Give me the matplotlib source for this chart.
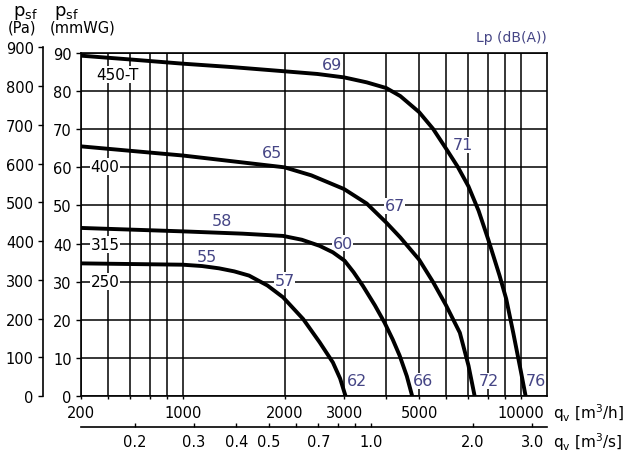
import matplotlib.pyplot as plt
from matplotlib.ticker import FixedLocator, FixedFormatter, NullLocator

# Fan curves: airflow q (m3/h) vs static pressure (mmWG)
q_450 = [500, 700, 1000, 1400, 2000, 2500, 3000, 3500, 4000, 4400, 5000, 5500, 6000,
         6500, 7000, 7500, 8000, 8650, 9050, 9500, 10000, 10330]
p_450 = [89.3, 88.3, 87.2, 86.3, 85.2, 84.5, 83.6, 82.3, 80.8, 78.7, 74.5, 70.1, 65.0,
         60.2, 55.0, 48.6, 41.2, 31.6, 25.5, 16.5, 6.5, 0]

q_400 = [500, 1000, 1400, 2000, 2400, 3000, 3500, 4000, 4400, 5000, 5500, 6000, 6600,
         7000, 7300]
p_400 = [65.5, 63.1, 61.6, 60.0, 57.9, 54.3, 50.5, 45.5, 41.6, 35.8, 29.9, 23.9, 16.6,
         8.0, 0]

q_315 = [500, 1000, 1500, 1980, 2250, 2540, 2780, 3010, 3200, 3410, 3700, 3950, 4180,
         4380, 4600, 4770]
p_315 = [44.1, 43.2, 42.6, 42.0, 41.0, 39.4, 37.7, 35.5, 32.5, 28.9, 23.8, 19.3, 14.8,
         10.6, 5.2, 0]

q_250 = [500, 1000, 1140, 1280, 1420, 1570, 1780, 1980, 2270, 2540, 2780, 2920, 3030]
p_250 = [34.8, 34.45, 34.1, 33.5, 32.7, 31.6, 29.0, 25.9, 20.2, 14.1, 8.8, 4.6, 0]

curve_names = ['450-T', '400', '315', '250']
curves = [(q_450, p_450), (q_400, p_400), (q_315, p_315), (q_250, p_250)]

# Sound pressure levels along each curve, dB(A)
lp_450 = ['69', '71', '76']
lp_400 = ['65', '67', '72']
lp_315 = ['58', '60', '66']
lp_250 = ['55', '57', '62']

# axis ticks
mm_ticks = [0, 10, 20, 30, 40, 50, 60, 70, 80, 90]
pa_ticks = [0, 100, 200, 300, 400, 500, 600, 700, 800, 900]
qh_grid = [500, 600, 700, 800, 900, 1000, 2000, 3000, 4000, 5000, 6000, 7000, 8000, 9000, 10000]
qh_ticks = [500, 1000, 2000, 3000, 5000, 10000]
qh_labels = ['200', '1000', '2000', '3000', '5000', '10000']
qs_ticks = [0.2, 0.3, 0.4, 0.5, 0.6, 0.7, 0.8, 0.9, 1.0, 2.0, 3.0]
qs_labels = ['0.2', '0.3', '0.4', '0.5', '', '0.7', '', '', '1.0', '2.0', '3.0']

W, H = 625, 460
lab_col = '#454585'
plt.rcParams['font.family'] = 'DejaVu Sans'

fig = plt.figure(figsize=(W / 100, H / 100), dpi=100)

# main axes (mmWG)
ax = fig.add_axes([81 / W, 63 / H, 466 / W, 343 / H])
ax.set_xscale('log')
ax.set_xlim(500, 11950)
ax.set_ylim(0, 90)
ax.set_axisbelow(True)

ax.xaxis.set_major_locator(FixedLocator(qh_grid))
ax.xaxis.set_major_formatter(FixedFormatter(
    [qh_labels[qh_ticks.index(t)] if t in qh_ticks else '' for t in qh_grid]))
ax.xaxis.set_minor_locator(NullLocator())
ax.set_yticks(mm_ticks)
ax.grid(True, color='black', linewidth=1.1)
ax.tick_params(axis='x', length=2.5, width=1, pad=4, labelsize=10.5)
ax.tick_params(axis='y', length=3.6, width=1, pad=3, labelsize=10.5)
for s in ax.spines.values():
    s.set_linewidth(1.2)

for (q, p) in curves:
    ax.plot(q, p, color='black', linewidth=2.8, zorder=2, solid_joinstyle='round')

bg = dict(facecolor='white', edgecolor='none', pad=0.5)

# curve names on left
name_pos = [(642, 84.3), (589, 60.2), (589, 39.8), (589, 30.0)]
for name, (x, y) in zip(curve_names, name_pos):
    ax.text(x, y, name, ha='center', va='center', fontsize=11, bbox=bg, zorder=1.5)

# dB(A) labels
lp_pos = [
    [(2770, 86.9), (6720, 65.9), (11100, 4.0)],
    [(1840, 63.9), (4230, 49.9), (8040, 4.0)],
    [(1310, 46.0), (2970, 40.1), (5130, 4.0)],
    [(1180, 36.7), (2000, 30.3), (3280, 4.0)],
]
for vals, pos in zip([lp_450, lp_400, lp_315, lp_250], lp_pos):
    for v, (x, y) in zip(vals, pos):
        ax.text(x, y, v, ha='center', va='center', fontsize=11.5, color=lab_col,
                bbox=bg, zorder=1.5)

# Pa axis
axp = fig.add_axes([43 / W, 63 / H, 0.0001, 348.7 / H])
axp.set_ylim(0, 900)
axp.set_yticks(pa_ticks)
axp.set_xticks([])
for k in ['right', 'top', 'bottom']:
    axp.spines[k].set_visible(False)
axp.spines['left'].set_linewidth(1.2)
axp.patch.set_visible(False)
axp.tick_params(axis='y', length=3.6, width=1, pad=3, labelsize=10.5)

# m3/s axis
axs = fig.add_axes([81 / W, (H - 428.3) / H, 466 / W, 0.0001])
axs.set_xscale('log')
axs.set_xlim(500 / 3600, 11950 / 3600)
axs.xaxis.set_major_locator(FixedLocator(qs_ticks))
axs.xaxis.set_major_formatter(FixedFormatter(qs_labels))
axs.xaxis.set_minor_locator(NullLocator())
axs.set_yticks([])
for k in ['left', 'right', 'top']:
    axs.spines[k].set_visible(False)
axs.spines['bottom'].set_linewidth(1.2)
axs.patch.set_visible(False)
axs.tick_params(axis='x', direction='in', length=3, width=1, pad=5, labelsize=10.5)


def ftext(x, y, s, **kw):
    fig.text(x / W, 1 - y / H, s, **kw)


ftext(13, 13, r'p$_{\rm sf}$', fontsize=13, va='center', ha='left')
ftext(22, 28, '(Pa)', fontsize=10.5, va='center', ha='center')
ftext(54, 13, r'p$_{\rm sf}$', fontsize=13, va='center', ha='left')
ftext(83, 28, '(mmWG)', fontsize=10.5, va='center', ha='center')
ftext(547, 38, 'Lp (dB(A))', fontsize=10, va='center', ha='right', color=lab_col)
ftext(553, 413, r'q$_{\rm v}$ [m$^3$/h]', fontsize=11, va='center', ha='left')
ftext(553, 442, r'q$_{\rm v}$ [m$^3$/s]', fontsize=11, va='center', ha='left')

fig.savefig('out.png', dpi=100)
